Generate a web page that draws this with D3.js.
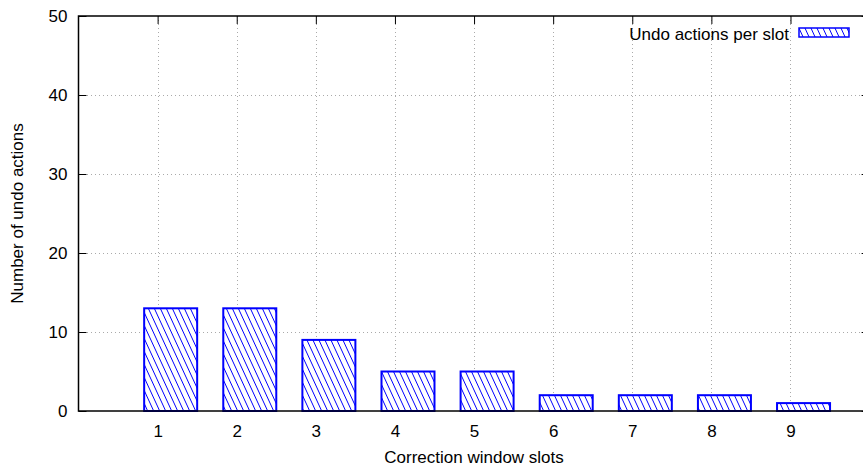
<!DOCTYPE html>
<html>
<head>
<meta charset="utf-8">
<script src="https://cdn.jsdelivr.net/npm/d3@7"></script>
<style>
  html, body { margin: 0; padding: 0; background: #fff; }
  svg { display: block; font-family: "Liberation Sans", Arial, Helvetica, sans-serif; }
</style>
</head>
<body>
<svg id="chart" width="863" height="468"></svg>
<script>
// Data
const slots = [1, 2, 3, 4, 5, 6, 7, 8, 9];
const undoCounts = [13, 13, 9, 5, 5, 2, 2, 2, 1];
const yTicks = [0, 10, 20, 30, 40, 50];
const xTicks = [1, 2, 3, 4, 5, 6, 7, 8, 9];
const seriesName = "Undo actions per slot";
const xTitle = "Correction window slots";
const yTitle = "Number of undo actions";

const svg = d3.select("#chart");
const plot = { left: 78.5, right: 869.6, top: 16, bottom: 411 };
const blue = "#0000ff";
const fontSize = 17;

const x = d3.scaleLinear().domain([0, 10]).range([plot.left, plot.right]);
const y = d3.scaleLinear().domain([0, 50]).range([plot.bottom, plot.top]);

// Diagonal hatch pattern on a white ground
const defs = svg.append("defs");
const pat = defs.append("pattern")
  .attr("id", "hatch")
  .attr("patternUnits", "userSpaceOnUse")
  .attr("width", 6).attr("height", 13);
pat.append("rect").attr("width", 6).attr("height", 13).attr("fill", "#fff");
[-6, 0, 6].forEach(o => {
  pat.append("line")
    .attr("x1", o).attr("y1", 0).attr("x2", o + 6).attr("y2", 13)
    .attr("stroke", blue).attr("stroke-width", 1);
});

// Dotted grid
const grid = svg.append("g").attr("stroke", "#aaaaaa").attr("stroke-width", 1)
  .attr("stroke-dasharray", "1,3").attr("shape-rendering", "crispEdges");
grid.selectAll("line.gy").data(yTicks.filter(v => v > 0 && v < 50)).join("line")
  .attr("x1", plot.left).attr("x2", plot.right)
  .attr("y1", d => Math.round(y(d)) + 0.5).attr("y2", d => Math.round(y(d)) + 0.5);
grid.selectAll("line.gx").data(xTicks).join("line")
  .attr("y1", plot.top).attr("y2", plot.bottom)
  .attr("x1", d => Math.round(x(d)) + 0.5).attr("x2", d => Math.round(x(d)) + 0.5);

const fmt = d3.format("d");
function styleAxis(g) {
  g.select(".domain").remove();
  g.selectAll(".tick line").attr("stroke", "#000").attr("stroke-width", 1);
  g.selectAll("text").attr("font-size", fontSize).attr("fill", "#000")
    .attr("font-family", "Liberation Sans, Arial, sans-serif");
}

// Bottom axis goes under the bars, so its inward ticks are hidden by them
const gBottom = svg.append("g").attr("transform", `translate(0,${plot.bottom})`)
  .call(d3.axisBottom(x).tickValues(xTicks).tickFormat(fmt).tickSize(-8).tickPadding(14));
styleAxis(gBottom);

// Bars: each spans from slot-0.17 to slot+0.5
const barLeft = -0.17, barRight = 0.5;
svg.append("g").selectAll("rect").data(slots).join("rect")
  .attr("x", (d) => x(d + barLeft))
  .attr("width", (d) => x(d + barRight) - x(d + barLeft))
  .attr("y", (d, i) => y(undoCounts[i]))
  .attr("height", (d, i) => y(0) - y(undoCounts[i]))
  .attr("fill", "url(#hatch)")
  .attr("stroke", blue).attr("stroke-width", 2);

// Remaining axes (ticks pointing inward)
const gLeft = svg.append("g").attr("transform", `translate(${plot.left},0)`)
  .call(d3.axisLeft(y).tickValues(yTicks).tickFormat(fmt).tickSize(-8).tickPadding(11));
const gTop = svg.append("g").attr("transform", `translate(0,${plot.top})`)
  .call(d3.axisTop(x).tickValues(xTicks).tickFormat("").tickSize(-8));
const gRight = svg.append("g").attr("transform", `translate(${plot.right},0)`)
  .call(d3.axisRight(y).tickValues(yTicks).tickFormat("").tickSize(-8));
[gLeft, gTop, gRight].forEach(styleAxis);

// Frame
svg.append("rect")
  .attr("x", plot.left).attr("y", plot.top)
  .attr("width", plot.right - plot.left).attr("height", plot.bottom - plot.top)
  .attr("fill", "none").attr("stroke", "#000").attr("stroke-width", 1.5);

// Axis titles
svg.append("text")
  .attr("x", (plot.left + plot.right) / 2).attr("y", 463)
  .attr("text-anchor", "middle").attr("font-size", fontSize)
  .text(xTitle);
svg.append("text")
  .attr("transform", `translate(23,${(plot.top + plot.bottom) / 2}) rotate(-90)`)
  .attr("text-anchor", "middle").attr("font-size", fontSize)
  .text(yTitle);

// Legend
const legend = svg.append("g");
legend.append("text")
  .attr("x", 789).attr("y", 40)
  .attr("text-anchor", "end").attr("font-size", fontSize)
  .text(seriesName);
legend.append("rect")
  .attr("x", 799).attr("y", 28).attr("width", 50).attr("height", 9)
  .attr("fill", "url(#hatch)").attr("stroke", blue).attr("stroke-width", 1.5);
</script>
</body>
</html>
